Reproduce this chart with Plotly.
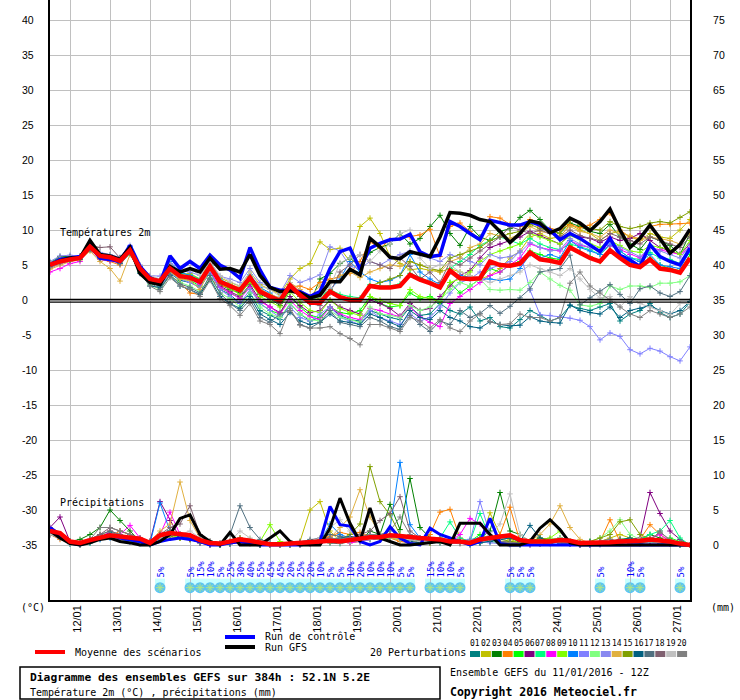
import pandas as pd
import plotly.graph_objects as go

# GEFS run of 11/01/2016 12Z, 6-hourly steps up to +384h
times = pd.date_range("2016-01-11 12:00", periods=65, freq="6h")
day_labels = ["12/01", "13/01", "14/01", "15/01", "16/01", "17/01", "18/01", "19/01",
              "20/01", "21/01", "22/01", "23/01", "24/01", "25/01", "26/01", "27/01"]
days = pd.date_range("2016-01-12", periods=16, freq="D")

# temperature 2m (°C)
temp_mean = [5.0, 5.5, 5.8, 6.0, 7.6, 6.3, 6.1, 5.6, 7.1, 4.5,
             3.0, 2.7, 4.5, 3.4, 3.2, 2.6, 4.8, 2.6, 2.0, 1.4,
             3.2, 1.2, 0.5, -0.1, 2.1, 0.7, -0.4, -0.4, 1.2, 0.4,
             0.0, 0.0, 2.0, 1.8, 1.8, 2.0, 3.6, 2.9, 2.4, 1.8,
             4.2, 3.1, 3.0, 3.1, 5.5, 5.0, 4.9, 5.2, 6.8, 5.8,
             5.6, 5.3, 7.5, 6.7, 6.0, 5.5, 7.1, 6.0, 5.0, 4.7,
             5.8, 4.5, 4.3, 3.9, 6.0]
temp_control = [5.0, 5.8, 6.0, 6.2, 7.8, 6.0, 5.8, 5.5, 7.8, 4.8,
                3.2, 2.4, 6.3, 4.5, 5.5, 4.5, 6.4, 5.0, 4.3, 3.1,
                7.5, 4.3, 1.8, 1.4, 1.4, 1.2, 0.5, 1.2, 4.5, 6.9,
                7.4, 4.4, 7.4, 8.1, 8.6, 8.7, 9.4, 6.9, 6.2, 6.4,
                11.2, 10.5, 9.5, 8.6, 11.4, 11.0, 10.7, 10.7, 11.2, 10.7,
                10.0, 8.6, 9.5, 8.8, 7.9, 6.9, 8.8, 6.4, 5.7, 4.8,
                7.9, 6.2, 5.5, 5.0, 7.4]
temp_gfs = [5.0, 5.6, 6.0, 6.0, 8.5, 6.5, 6.3, 5.8, 7.5, 3.8,
            2.5, 2.2, 4.8, 4.0, 4.5, 4.0, 6.0, 4.4, 4.5, 4.0,
            6.5, 3.5, 1.8, 1.2, 1.3, 1.0, 0.3, 0.7, 2.6, 2.6,
            4.4, 3.6, 8.8, 7.6, 6.1, 5.9, 6.9, 6.6, 6.2, 9.0,
            12.5, 12.4, 12.1, 11.5, 11.2, 9.8, 8.2, 9.5, 11.3, 11.0,
            9.6, 10.2, 11.7, 11.0, 9.9, 11.2, 13.0, 10.0, 7.5, 8.8,
            10.7, 8.8, 6.7, 7.9, 10.1]

temp_p01 = [5.2, 5.9, 6.2, 6.0, 7.2, 6.0, 5.8, 5.4, 6.8, 4.0,
            2.6, 2.0, 3.8, 2.8, 2.5, 1.8, 3.9, 1.5, 0.8, -0.5,
            1.0, -1.5, -2.2, -2.8, -0.5, -2.0, -3.0, -2.5, -1.0, -2.2,
            -2.8, -3.0, -1.5, -2.0, -2.5, -2.8, -1.0, -2.2, -2.0, -0.5,
            -1.5, -2.0, -1.0, -3.0, -2.5, -3.8, -4.0, -2.8, -1.5, -2.2,
            -3.0, -2.5, -0.8, -1.2, -1.5, -1.0, -0.5, -3.0, -2.0, -1.5,
            -0.5, -1.8, -2.5, -2.0, -0.3]
temp_p02 = [4.8, 5.6, 6.0, 6.3, 7.8, 6.2, 6.0, 5.2, 7.0, 4.6,
            3.4, 2.8, 4.2, 3.6, 3.8, 3.0, 5.5, 3.2, 2.5, 2.0,
            4.0, 2.2, 1.5, 0.8, 3.0, 4.5, 5.2, 8.3, 7.2, 7.4,
            5.5, 10.5, 11.7, 9.5, 6.2, 5.2, 4.3, 4.5, 4.2, 4.0,
            4.5, 4.0, 3.5, 3.0, 3.5, 4.5, 6.0, 7.0, 9.0, 9.5,
            8.8, 9.0, 10.8, 10.0, 9.5, 8.5, 9.5, 9.8, 9.0, 8.5,
            9.5, 9.0, 8.8, 10.0, 11.5]
temp_p03 = [5.3, 6.2, 6.2, 6.1, 7.4, 6.5, 6.4, 6.0, 7.2, 4.2,
            2.8, 2.2, 4.0, 3.2, 3.4, 2.8, 4.5, 2.2, 1.5, 1.0,
            2.5, 0.8, 0.2, -0.8, 1.5, 0.5, -0.5, 3.0, 3.8, 5.2,
            6.0, 4.8, 6.8, 7.5, 8.0, 9.5, 8.0, 8.8, 10.5, 12.1,
            9.5, 7.8, 10.5, 9.0, 8.5, 9.8, 10.2, 11.8, 12.8, 11.5,
            10.0, 9.5, 11.0, 10.5, 9.8, 9.5, 10.8, 9.0, 8.0, 7.2,
            9.0, 8.5, 7.8, 6.5, 9.5]
temp_p04 = [4.5, 5.2, 5.6, 5.8, 7.5, 5.8, 5.5, 5.0, 6.8, 4.4,
            3.0, 2.5, 3.5, 2.5, 1.0, 0.8, 3.0, 2.0, 1.8, 1.5,
            3.0, 1.0, 0.5, 0.2, 1.9, 2.0, 1.5, 2.5, 3.0, 3.3,
            3.8, 5.5, 8.3, 7.4, 8.6, 8.8, 9.0, 9.3, 10.1, 6.2,
            10.5, 11.0, 9.8, 8.7, 11.9, 11.7, 10.8, 10.5, 11.5, 10.5,
            10.2, 10.0, 10.8, 10.3, 10.7, 11.5, 12.4, 10.0, 9.0, 8.8,
            10.5, 10.8, 10.8, 10.9, 11.0]
temp_p05 = [5.0, 5.8, 6.0, 6.0, 7.6, 6.2, 6.0, 5.4, 7.0, 4.0,
            2.5, 2.0, 4.2, 3.0, 2.8, 2.0, 4.0, 1.8, 1.0, 0.3,
            2.0, -0.5, -1.5, -2.0, 0.5, -1.0, -2.2, -2.5, -1.0, -1.8,
            -2.0, -1.5, 0.5, -0.5, -1.0, -0.8, 1.0, 0.2, 0.5, -0.2,
            2.5, 1.0, 2.0, 3.0, 4.5, 4.0, 5.0, 5.5, 7.0, 6.5,
            6.0, 5.8, 7.8, 6.8, 6.2, 5.5, 7.0, 6.2, 5.5, 5.0,
            6.0, 5.0, 4.5, 4.2, 6.5]
temp_p06 = [5.1, 5.7, 5.9, 6.2, 7.7, 6.3, 6.0, 5.6, 7.2, 4.8,
            3.2, 2.6, 4.6, 3.5, 3.0, 2.4, 4.6, 2.0, 1.2, 0.5,
            2.2, 0.0, -1.0, -1.8, 0.5, -0.8, -1.8, -1.5, 0.0, -1.0,
            -1.5, -2.0, 0.0, -0.5, -1.2, -2.3, -0.5, -1.5, -1.2, 0.5,
            2.0, 3.5, 4.2, 6.0, 7.5, 8.0, 8.5, 9.0, 9.8, 9.2,
            8.5, 8.0, 9.5, 9.0, 8.8, 8.2, 9.0, 8.5, 8.8, 9.5,
            8.5, 7.5, 7.0, 6.5, 8.0]
temp_p07 = [5.4, 6.0, 6.1, 5.9, 7.4, 6.6, 6.3, 5.9, 7.4, 4.5,
            3.0, 2.8, 4.8, 3.8, 3.6, 3.0, 5.0, 2.8, 2.2, 1.5,
            3.5, 1.5, 0.8, 0.2, 2.2, 1.0, 0.0, 0.5, 1.5, 0.8,
            0.5, 0.3, 2.2, 2.0, 2.0, 2.3, 3.8, 3.2, 2.6, 2.0,
            4.5, 5.5, 6.5, 7.8, 8.5, 9.0, 8.5, 8.0, 8.8, 8.0,
            7.5, 7.2, 8.0, 7.6, 7.2, 6.5, 7.8, 7.0, 6.0, 5.8,
            6.8, 6.0, 5.8, 5.2, 7.0]
temp_p08 = [4.0, 4.5, 5.2, 5.5, 7.3, 5.8, 5.6, 5.3, 6.9, 4.5,
            2.8, 2.4, 4.4, 3.3, 3.0, 2.2, 4.2, 1.8, 1.0, 0.2,
            1.8, -0.2, -1.0, -2.0, 0.0, -1.5, -2.4, -2.8, -1.0, -2.0,
            -2.5, -2.8, -1.2, -1.5, -2.0, -2.4, -1.0, -2.4, -3.2, -3.8,
            -0.5, 0.5, 1.5, 2.5, 3.5, 4.0, 5.0, 6.0, 8.0, 7.5,
            7.2, 7.0, 8.5, 7.8, 7.5, 7.0, 7.8, 7.2, 6.5, 6.0,
            7.5, 7.2, 6.8, 6.5, 7.5]
temp_p09 = [5.0, 5.6, 5.9, 6.1, 7.6, 6.4, 6.2, 5.7, 7.0, 4.3,
            2.7, 2.3, 4.4, 3.4, 3.2, 2.7, 4.6, 2.4, 1.6, 0.8,
            2.6, 0.5, -0.2, -1.0, 1.2, -0.3, -1.5, -1.8, 0.0, -1.2,
            -1.8, -2.2, 0.5, 0.0, -0.5, -0.8, 1.5, 0.5, 0.2, -0.3,
            2.5, 3.0, 4.0, 5.5, 6.5, 7.0, 7.5, 8.0, 9.5, 9.0,
            8.5, 8.0, 9.2, 8.6, 8.0, 7.5, 8.5, 7.8, 7.0, 6.8,
            7.8, 7.5, 7.2, 6.5, 8.5]
temp_p10 = [5.0, 5.5, 5.8, 6.0, 7.8, 6.0, 6.0, 5.5, 7.6, 4.8,
            3.2, 3.0, 5.5, 4.0, 3.5, 2.8, 5.0, 3.0, 2.2, 1.6,
            3.6, 1.8, 1.0, 0.0, 2.0, 0.8, -0.5, -0.2, 1.5, 3.0,
            5.5, 4.0, 3.0, 2.5, 2.8, 3.5, 6.5, 4.0, 3.0, 2.2,
            4.0, 3.5, 3.2, 3.0, 3.0, 2.8, 3.0, 4.5, 6.5, 6.0,
            6.5, 6.0, 8.5, 7.5, 7.0, 6.5, 8.0, 7.0, 6.0, 5.5,
            6.5, 5.0, 4.8, 4.5, 7.0]
temp_p11 = [4.6, 5.2, 5.5, 5.8, 7.2, 6.0, 5.8, 5.2, 6.6, 4.2,
            2.5, 2.0, 3.8, 3.0, 2.5, 1.8, 4.0, 1.5, 0.5, -0.5,
            1.5, -0.5, -1.5, -2.5, -1.0, -2.5, -3.0, -2.0, -1.0, -2.5,
            -3.0, -3.5, -1.5, -2.5, -3.0, -3.5, -2.0, -3.0, -2.5, -1.0,
            1.0, 2.5, 3.0, 4.0, 4.5, 5.0, 5.5, 7.0, 1.4, -2.1,
            -2.2, -2.4, -2.6, -2.9, -3.8, -5.7, -4.7, -5.2, -7.1, -7.7,
            -6.9, -7.3, -8.1, -8.7, -6.7]
temp_p12 = [4.9, 5.5, 5.7, 5.9, 7.3, 6.1, 5.9, 5.4, 6.5, 4.0,
            2.2, 1.5, 3.5, 2.5, 2.0, 1.2, 3.2, 1.0, 0.2, -1.0,
            1.0, -1.0, -2.0, -2.5, -0.5, -2.0, -2.8, -3.0, -1.5, -2.5,
            -2.8, -3.2, -1.0, -2.0, -2.2, -2.5, -0.8, -1.5, -1.0, 0.0,
            1.5, 2.5, 2.0, 3.0, 1.5, 1.4, 1.5, 1.4, 2.5, 4.0,
            3.0, 2.1, 1.4, -0.7, -0.9, -0.5, 2.0, 1.5, 2.0, 2.0,
            1.8, 2.4, 2.4, 2.6, 3.5]
temp_p13 = [5.5, 6.3, 6.4, 6.2, 8.0, 6.8, 6.5, 6.1, 7.8, 5.0,
            3.5, 3.4, 5.2, 4.2, 4.0, 3.5, 5.5, 3.4, 3.0, 2.5,
            4.5, 2.5, 1.8, 1.0, 3.5, 2.5, 3.0, 3.6, 7.6, 7.0,
            4.8, 4.5, 5.5, 5.0, 5.8, 6.5, 7.0, 6.5, 6.0, 5.5,
            6.5, 6.0, 5.5, 5.0, 6.5, 6.0, 6.2, 6.8, 8.2, 7.5,
            7.0, 7.2, 8.8, 8.0, 7.5, 7.0, 8.2, 7.5, 6.8, 6.2,
            7.5, 7.0, 6.5, 6.0, 7.8]
temp_p14 = [4.4, 5.0, 5.5, 5.7, 7.0, 5.5, 4.5, 2.7, 6.5, 4.2,
            2.6, 2.4, 4.0, 3.0, 2.8, 1.5, 4.4, 2.8, 2.2, 1.8,
            3.4, 1.6, 0.8, 0.3, 2.5, 1.5, 0.5, 2.0, 2.8, 3.5,
            4.0, 3.2, 4.0, 4.5, 5.0, 4.8, 5.5, 5.0, 4.5, 4.0,
            5.5, 6.0, 7.5, 8.0, 9.5, 9.2, 8.8, 9.5, 10.5, 9.8,
            9.5, 9.2, 10.5, 9.8, 9.5, 9.0, 10.0, 9.5, 9.2, 8.5,
            9.0, 8.8, 8.5, 8.0, 9.5]
temp_p15 = [5.2, 5.7, 6.0, 6.0, 7.5, 6.3, 6.2, 5.8, 7.2, 4.6,
            3.0, 2.8, 4.8, 3.6, 3.3, 2.8, 5.0, 2.8, 2.0, 1.4,
            3.3, 1.2, 0.5, 0.0, 2.2, 1.0, 0.0, 0.2, 1.5, 0.5,
            0.2, 0.0, 2.0, 2.5, 3.0, 3.5, 5.5, 5.0, 4.5, 4.2,
            6.0, 6.5, 7.0, 7.5, 8.5, 9.0, 9.5, 9.8, 10.8, 10.2,
            9.8, 9.5, 11.5, 10.8, 10.2, 10.0, 11.2, 10.5, 10.2, 10.5,
            11.0, 11.2, 11.0, 11.8, 12.6]
temp_p16 = [4.8, 5.4, 5.7, 5.8, 7.2, 6.0, 5.9, 5.2, 6.7, 3.8,
            2.0, 1.8, 3.5, 2.0, 1.5, 0.8, 3.0, 0.5, -0.5, -1.2,
            0.5, -2.0, -2.8, -3.5, -1.8, -3.0, -3.5, -3.2, -2.0, -3.0,
            -3.2, -3.5, -2.0, -2.5, -3.2, -3.8, -1.5, -2.5, -2.8, -1.5,
            -2.5, -3.0, -3.8, -4.0, -3.1, -3.5, -3.7, -3.6, -2.4, -3.0,
            -3.2, -3.3, -0.7, -1.5, -1.8, -2.0, -1.0, -2.5, -1.5, -1.2,
            -0.8, -1.5, -2.0, -1.5, -0.2]
temp_p17 = [5.0, 5.6, 5.8, 6.0, 7.4, 6.1, 5.9, 5.5, 6.9, 4.2,
            2.5, 1.5, 3.6, 2.3, 1.8, 1.0, 3.5, 1.0, -0.5, -1.5,
            0.0, -2.5, -3.2, -2.0, -1.5, -3.5, -4.0, -3.2, -1.5, -3.2,
            -3.5, -3.8, -2.5, -3.0, -3.8, -4.2, -2.2, -3.5, -4.5, -3.0,
            -3.5, -1.5, -2.5, -1.9, -0.8, -1.9, -0.9, 0.3, 1.6, 4.0,
            4.3, 4.5, 6.4, -0.7, 0.3, 1.3, 2.2, 0.8, -0.5, 1.6,
            2.0, 1.0, 0.5, 1.2, 3.5]
temp_p18 = [5.3, 6.0, 6.1, 6.2, 7.8, 7.5, 7.6, 6.0, 7.4, 4.6,
            3.2, 2.9, 5.0, 3.5, 3.2, 2.5, 5.2, 2.6, 1.8, 1.2,
            3.0, 1.0, 0.2, -0.5, 1.8, 0.5, -0.5, -0.8, 1.0, 4.0,
            5.0, 6.5, 5.5, 5.0, 4.5, 6.0, 4.8, 3.0, 4.0, 2.5,
            5.5, 5.0, 6.0, 7.0, 8.0, 9.0, 10.5, 10.0, 9.5, 10.0,
            9.5, 9.0, 10.0, 9.2, 8.8, 8.5, 9.5, 9.0, 8.5, 8.0,
            9.0, 8.5, 8.0, 7.5, 9.0]
temp_p19 = [5.1, 5.8, 6.0, 6.2, 7.8, 6.6, 6.4, 5.8, 7.3, 5.0,
            3.5, 3.0, 5.0, 4.0, 4.5, 3.5, 5.5, 3.5, 2.6, 2.0,
            4.0, 2.0, 1.5, 0.5, 2.5, 1.2, 0.2, 0.5, 1.8, 5.3,
            6.0, 6.5, 5.5, 7.0, 8.0, 9.5, 10.0, 6.0, 4.5, 5.0,
            5.0, 4.0, 3.5, 3.0, 2.5, 3.0, 3.5, 4.0, 5.0, 4.5,
            4.0, 3.5, 4.5, 3.0, 1.5, 0.3, 0.5, -1.0, 0.5, -0.5,
            -1.0, -1.5, -2.1, -0.5, -0.5]
temp_p20 = [4.7, 5.3, 5.6, 5.9, 7.3, 5.9, 5.7, 5.3, 6.8, 4.0,
            2.0, 1.2, 3.2, 2.0, 1.5, 0.5, 2.8, 0.2, -0.8, -2.2,
            -0.5, -3.0, -3.5, -4.8, -1.2, -3.6, -4.0, -4.0, -3.8, -4.8,
            -5.5, -6.4, -3.5, -3.5, -4.0, -4.5, -2.5, -3.0, -4.0, -2.8,
            -4.0, -4.5, -3.0, -2.0, -3.1, -3.5, -3.4, -2.0, -2.5, -2.5,
            -3.0, -2.5, 2.4, 4.0, 2.0, 1.0, 0.0, -1.0, -2.0, -2.5,
            -1.5, -2.0, -2.5, -2.0, -1.0]

# precipitation (mm / 6h)
precip_mean = [2.0, 1.7, 0.5, 0.3, 0.7, 1.1, 1.4, 1.2, 1.1, 0.9,
               0.3, 1.4, 1.7, 1.5, 1.4, 0.7, 0.3, 0.2, 0.5, 0.8,
               0.6, 0.3, 0.1, 0.1, 0.2, 0.3, 0.5, 0.6, 0.6, 0.5,
               0.7, 0.8, 1.1, 1.1, 1.4, 1.3, 1.1, 1.0, 0.9, 0.8,
               0.5, 0.5, 0.3, 0.8, 1.0, 1.2, 1.4, 0.7, 0.5, 0.5,
               0.5, 0.7, 0.6, 0.3, 0.3, 0.3, 0.4, 0.5, 0.5, 0.6,
               0.8, 0.7, 0.5, 0.2, 0.0]
precip_control = [2.5, 1.5, 0.3, 0.0, 0.5, 1.0, 1.5, 1.0, 0.8, 0.5,
                  0.0, 0.5, 0.8, 1.0, 0.8, 0.5, 0.0, 0.0, 0.3, 0.5,
                  0.2, 0.0, 0.0, 0.0, 0.0, 0.0, 0.2, 0.5, 5.5, 2.9,
                  2.7, 0.5, 0.0, 0.5, 2.6, 1.0, 0.2, 0.0, 2.4, 1.5,
                  1.0, 0.5, 0.0, 0.5, 3.8, 0.2, 0.0, 0.0, 0.0, 0.0,
                  0.0, 0.0, 0.0, 0.0, 0.0, 0.0, 0.0, 0.0, 0.0, 0.0,
                  0.0, 0.0, 0.0, 0.0, 0.0]
precip_gfs = [2.0, 1.0, 0.2, 0.0, 0.3, 0.8, 1.0, 0.5, 0.3, 0.0,
              0.0, 0.5, 1.5, 3.8, 4.3, 1.5, 0.5, 0.0, 1.8, 0.0,
              0.0, 0.0, 1.0, 2.0, 0.5, 0.0, 0.0, 0.0, 2.4, 6.7,
              3.1, 0.5, 5.3, 1.0, 0.5, 0.0, 0.0, 0.2, 0.3, 0.5,
              0.0, 3.1, 3.1, 3.1, 1.5, 0.0, 0.0, 0.0, 0.5, 2.4,
              3.6, 2.2, 0.3, 0.0, 0.0, 0.0, 0.0, 0.0, 0.0, 0.0,
              0.0, 0.0, 0.0, 0.0, 0.0]

precip_p01 = [1.8, 1.0, 0.2, 0.0, 0.5, 1.2, 1.8, 1.5, 0.5, 0.2,
              0.0, 1.0, 2.0, 1.2, 0.8, 0.3, 0.0, 0.0, 0.2, 0.5,
              0.3, 0.0, 0.0, 0.0, 0.0, 0.2, 0.3, 0.5, 0.3, 0.2,
              0.5, 0.8, 1.0, 0.8, 1.2, 1.0, 0.5, 0.3, 0.5, 0.3,
              0.2, 0.5, 0.0, 0.3, 0.5, 0.8, 1.0, 0.5, 0.3, 0.2,
              0.2, 0.5, 0.3, 0.0, 0.2, 0.2, 0.3, 0.5, 0.8, 0.3,
              0.5, 0.3, 0.2, 0.0, 0.0]
precip_p02 = [2.2, 1.5, 0.5, 0.2, 0.8, 1.0, 1.5, 1.0, 0.8, 0.5,
              0.2, 1.2, 1.5, 1.0, 0.8, 0.5, 0.2, 0.0, 0.3, 0.8,
              0.5, 0.2, 0.0, 0.0, 0.2, 0.5, 5.0, 6.2, 2.0, 0.5,
              0.3, 0.5, 1.0, 1.5, 1.0, 0.8, 0.5, 0.3, 0.5, 1.0,
              0.5, 0.3, 0.2, 0.5, 4.6, 1.5, 0.8, 0.3, 0.2, 0.5,
              0.8, 1.0, 0.5, 0.3, 0.2, 0.5, 1.0, 1.5, 1.0, 0.8,
              1.0, 0.5, 0.2, 0.0, 0.0]
precip_p03 = [2.0, 1.2, 0.5, 0.8, 1.5, 2.5, 5.0, 3.5, 2.0, 0.5,
              0.2, 1.0, 1.5, 1.2, 1.0, 0.5, 0.2, 0.0, 0.2, 0.5,
              0.5, 0.2, 0.0, 0.0, 0.0, 0.2, 0.5, 0.5, 0.8, 0.5,
              0.5, 0.5, 2.0, 1.5, 5.8, 2.2, 9.5, 2.5, 1.0, 0.5,
              0.5, 0.3, 0.5, 1.0, 2.0, 7.5, 2.0, 1.5, 0.5, 0.2,
              0.5, 1.0, 0.5, 0.2, 0.0, 0.2, 0.3, 0.5, 0.5, 0.8,
              1.5, 1.0, 0.5, 0.0, 0.0]
precip_p04 = [1.5, 0.8, 0.3, 0.0, 0.5, 1.0, 1.2, 2.0, 1.5, 0.5,
              0.2, 1.0, 1.2, 1.5, 1.2, 0.5, 0.2, 0.0, 0.5, 1.0,
              0.8, 0.3, 0.0, 0.0, 0.2, 0.3, 0.5, 0.8, 1.2, 1.8,
              1.5, 1.8, 1.2, 0.8, 1.0, 0.5, 0.3, 0.5, 1.5, 4.7,
              5.1, 1.0, 0.5, 0.5, 1.0, 1.5, 5.4, 0.5, 0.3, 0.2,
              0.3, 0.5, 0.3, 0.2, 0.0, 0.5, 3.6, 0.5, 0.3, 0.8,
              2.9, 1.5, 0.5, 0.2, 0.0]
precip_p05 = [1.8, 1.2, 0.2, 0.0, 0.3, 0.8, 1.5, 1.2, 1.0, 0.5,
              0.2, 1.5, 1.8, 1.5, 1.2, 0.5, 0.2, 0.0, 0.3, 0.5,
              0.3, 0.0, 0.0, 0.0, 0.0, 0.2, 0.3, 0.5, 0.5, 0.3,
              0.5, 0.5, 0.8, 1.0, 1.2, 1.0, 0.8, 0.5, 0.5, 0.8,
              0.5, 0.3, 0.5, 1.5, 1.0, 0.5, 0.3, 0.2, 0.5, 1.0,
              0.5, 0.3, 0.2, 0.3, 0.5, 0.5, 0.3, 0.2, 0.5, 0.8,
              0.5, 0.3, 1.0, 0.5, 0.0]
precip_p06 = [2.5, 4.0, 0.5, 0.2, 0.5, 1.0, 1.2, 0.8, 0.5, 0.3,
              0.5, 6.2, 3.5, 1.0, 0.8, 0.3, 0.0, 0.0, 0.2, 0.3,
              0.2, 0.0, 0.0, 0.0, 0.0, 0.0, 0.2, 0.3, 0.5, 0.3,
              0.5, 0.8, 1.0, 1.0, 1.5, 1.0, 0.8, 0.5, 0.3, 0.5,
              0.3, 0.2, 0.3, 0.5, 0.8, 0.5, 0.3, 0.2, 0.0, 0.2,
              0.3, 0.5, 0.3, 0.0, 0.0, 0.2, 0.3, 0.5, 0.8, 1.0,
              7.5, 4.5, 2.0, 0.8, 0.0]
precip_p07 = [2.0, 1.5, 0.5, 0.2, 0.5, 1.0, 1.2, 1.0, 0.8, 0.5,
              0.2, 1.0, 1.5, 1.2, 1.0, 0.5, 0.2, 0.0, 0.3, 0.5,
              0.3, 0.0, 0.0, 0.0, 0.2, 0.3, 0.5, 0.8, 0.8, 0.5,
              0.5, 0.8, 1.0, 1.2, 1.0, 0.8, 0.5, 0.3, 0.5, 1.0,
              3.3, 1.0, 0.5, 4.5, 1.0, 0.5, 0.3, 0.2, 0.3, 0.5,
              0.8, 1.0, 0.5, 0.3, 0.2, 0.3, 0.5, 0.3, 0.5, 0.8,
              1.5, 2.0, 3.5, 1.0, 0.0]
precip_p08 = [1.5, 1.0, 0.3, 0.0, 0.5, 1.0, 2.0, 1.5, 2.8, 1.0,
              0.5, 1.5, 4.7, 1.5, 1.0, 0.5, 0.2, 0.0, 0.2, 0.5,
              0.3, 0.0, 0.0, 0.0, 0.0, 0.0, 0.2, 0.3, 0.5, 0.5,
              0.3, 0.5, 0.8, 1.0, 1.2, 0.8, 0.5, 0.3, 0.5, 0.5,
              0.5, 1.5, 3.8, 3.0, 1.0, 0.5, 0.3, 0.2, 0.3, 0.5,
              0.5, 0.3, 0.2, 0.0, 0.0, 0.2, 0.3, 0.5, 0.3, 0.5,
              1.0, 1.5, 0.5, 0.2, 0.0]
precip_p09 = [1.8, 1.2, 0.3, 0.0, 0.5, 1.0, 1.5, 1.2, 1.0, 0.5,
              0.2, 1.2, 1.5, 1.0, 1.2, 0.5, 0.3, 0.0, 0.5, 1.0,
              0.8, 0.5, 2.9, 0.5, 0.2, 0.0, 0.3, 0.5, 0.5, 0.3,
              0.5, 0.8, 1.0, 1.0, 1.2, 1.0, 0.8, 0.5, 0.3, 0.5,
              0.5, 0.3, 0.5, 0.8, 1.0, 0.5, 0.5, 0.3, 0.5, 0.8,
              1.0, 2.0, 0.5, 0.3, 0.2, 0.5, 0.5, 0.8, 1.0, 0.5,
              0.8, 0.5, 0.3, 0.2, 0.0]
precip_p10 = [2.2, 1.5, 0.2, 0.0, 0.3, 0.8, 1.0, 0.8, 0.5, 0.3,
              0.2, 6.0, 2.0, 1.2, 1.0, 0.5, 0.2, 0.0, 0.2, 0.5,
              0.3, 0.0, 0.0, 0.0, 0.0, 0.2, 0.3, 0.5, 3.0, 1.5,
              1.0, 1.0, 1.5, 1.2, 2.3, 11.8, 2.9, 1.0, 0.5, 0.5,
              0.3, 0.5, 0.8, 1.0, 0.5, 0.3, 0.2, 0.0, 0.2, 0.3,
              0.5, 0.3, 0.2, 0.0, 0.0, 0.2, 0.3, 0.5, 0.3, 0.2,
              0.5, 0.3, 0.2, 0.0, 0.0]
precip_p11 = [1.5, 1.0, 0.2, 0.0, 0.5, 0.8, 1.2, 1.0, 0.8, 0.5,
              0.3, 1.5, 1.8, 1.5, 1.2, 0.5, 0.2, 0.0, 0.2, 0.5,
              0.3, 0.0, 0.0, 0.0, 0.2, 0.3, 0.5, 0.8, 0.8, 0.5,
              0.5, 0.8, 1.0, 1.2, 1.5, 1.0, 0.8, 0.5, 0.5, 0.8,
              0.5, 0.3, 0.5, 6.2, 1.5, 0.5, 0.3, 0.2, 0.2, 0.3,
              0.5, 0.3, 0.2, 0.0, 0.0, 0.2, 0.3, 0.5, 0.3, 0.2,
              0.5, 0.3, 0.2, 0.0, 0.0]
precip_p12 = [2.0, 1.2, 0.5, 0.2, 0.5, 1.2, 1.5, 1.2, 1.0, 0.5,
              0.2, 1.0, 1.5, 1.2, 1.0, 0.5, 0.3, 0.0, 0.3, 0.5,
              0.3, 0.0, 0.0, 0.0, 0.0, 0.2, 0.3, 0.5, 0.5, 0.3,
              0.5, 0.8, 1.0, 0.8, 1.0, 0.8, 0.5, 0.3, 0.5, 0.5,
              0.5, 0.3, 0.5, 0.8, 0.5, 0.3, 0.2, 0.0, 0.3, 0.5,
              0.8, 1.0, 0.5, 0.3, 0.5, 1.0, 2.0, 3.6, 1.5, 0.8,
              1.0, 0.5, 0.3, 0.0, 0.0]
precip_p13 = [1.5, 1.0, 0.3, 0.0, 0.5, 1.0, 1.5, 1.2, 0.8, 0.5,
              0.2, 1.2, 1.5, 1.2, 1.0, 0.5, 0.3, 0.0, 0.2, 0.5,
              0.3, 0.0, 0.0, 0.0, 0.0, 0.0, 0.2, 0.5, 0.5, 0.3,
              0.5, 0.5, 0.8, 1.0, 1.2, 1.0, 0.5, 0.3, 0.5, 0.5,
              0.3, 0.5, 0.8, 0.5, 0.3, 0.2, 0.0, 0.0, 0.2, 0.3,
              0.5, 0.3, 0.2, 0.0, 0.0, 0.0, 0.2, 0.3, 0.5, 0.3,
              0.5, 0.3, 0.2, 0.0, 0.0]
precip_p14 = [1.8, 1.2, 0.5, 0.2, 0.8, 1.5, 2.0, 1.5, 1.2, 0.8,
              0.5, 2.0, 3.0, 9.0, 3.5, 1.0, 0.5, 0.2, 0.5, 1.0,
              0.5, 0.2, 0.0, 0.0, 0.0, 0.2, 0.5, 0.8, 1.0, 2.5,
              4.0, 7.9, 4.0, 1.5, 1.0, 0.8, 0.5, 0.3, 0.5, 0.8,
              0.5, 0.3, 0.5, 0.8, 1.0, 0.5, 0.3, 0.2, 0.5, 1.5,
              3.0, 5.6, 2.5, 0.8, 0.3, 0.2, 0.3, 0.5, 0.5, 0.3,
              0.5, 0.3, 0.2, 0.0, 0.0]
precip_p15 = [1.5, 1.0, 0.3, 0.0, 0.5, 1.0, 1.2, 1.0, 0.8, 0.5,
              0.2, 1.0, 1.2, 1.0, 0.8, 0.5, 0.2, 0.0, 0.2, 0.5,
              0.3, 0.0, 0.0, 0.0, 0.0, 0.2, 0.3, 0.5, 0.5, 0.8,
              1.5, 3.0, 11.2, 6.2, 4.3, 1.5, 0.8, 0.5, 0.3, 0.5,
              0.5, 0.3, 0.5, 0.8, 1.0, 0.8, 0.5, 0.3, 0.5, 1.0,
              0.8, 0.5, 0.3, 0.2, 0.5, 1.0, 1.5, 3.3, 3.6, 1.5,
              0.8, 0.5, 0.3, 0.0, 0.0]
precip_p16 = [2.0, 1.5, 0.5, 0.2, 0.5, 1.0, 1.5, 1.0, 0.8, 0.5,
              0.2, 1.0, 1.5, 1.2, 1.0, 0.5, 0.2, 0.0, 0.2, 0.5,
              0.3, 0.0, 0.0, 0.0, 0.0, 0.2, 0.3, 0.5, 0.8, 1.0,
              1.2, 1.0, 0.8, 1.0, 1.2, 1.0, 0.5, 0.3, 0.5, 0.8,
              0.5, 0.5, 0.5, 0.3, 0.5, 0.8, 1.0, 0.5, 2.8, 1.0,
              0.5, 0.3, 0.2, 0.3, 0.5, 0.3, 0.5, 0.8, 1.0, 0.5,
              0.5, 0.3, 0.2, 0.0, 0.0]
precip_p17 = [2.0, 1.5, 0.5, 0.2, 0.8, 1.5, 2.0, 1.5, 1.0, 0.8,
              0.5, 1.5, 2.0, 1.5, 1.2, 0.8, 0.5, 0.3, 1.5, 5.6,
              2.5, 0.8, 0.3, 0.0, 0.2, 0.5, 0.8, 1.0, 1.5, 1.2,
              1.0, 0.8, 1.0, 1.2, 1.5, 1.0, 0.8, 0.5, 0.5, 0.8,
              0.5, 0.3, 0.5, 0.5, 0.8, 0.5, 0.3, 0.2, 0.3, 0.5,
              0.3, 0.5, 0.3, 0.2, 0.3, 0.5, 0.8, 0.5, 0.3, 0.5,
              0.8, 0.5, 0.3, 0.0, 0.0]
precip_p18 = [1.8, 1.2, 0.5, 0.2, 0.8, 1.5, 2.5, 2.0, 1.5, 1.0,
              0.5, 1.5, 2.5, 3.0, 5.6, 1.5, 0.5, 0.2, 0.5, 0.8,
              0.5, 0.2, 0.0, 0.0, 0.0, 0.2, 0.5, 0.8, 1.0, 0.8,
              1.0, 1.5, 2.0, 3.5, 4.5, 6.9, 2.0, 1.0, 0.5, 0.8,
              0.5, 0.3, 0.5, 0.8, 1.0, 0.5, 0.3, 0.2, 0.3, 0.5,
              0.5, 0.3, 0.2, 0.0, 0.2, 0.3, 0.5, 0.8, 0.5, 0.3,
              0.5, 2.0, 0.5, 0.2, 0.0]
precip_p19 = [1.5, 1.0, 0.3, 0.0, 0.5, 1.0, 1.2, 1.0, 0.8, 0.5,
              0.2, 1.0, 1.5, 1.5, 2.0, 1.0, 0.5, 0.2, 0.5, 2.0,
              1.0, 0.3, 0.0, 0.0, 0.0, 0.2, 0.5, 1.0, 2.5, 3.6,
              2.0, 1.0, 0.8, 1.0, 1.2, 1.0, 0.8, 0.5, 0.5, 0.8,
              0.5, 0.3, 0.5, 0.8, 1.5, 3.0, 7.3, 1.5, 0.5, 0.3,
              0.5, 1.0, 0.5, 0.3, 0.2, 0.3, 0.5, 0.3, 0.5, 0.8,
              0.5, 0.3, 0.2, 0.0, 0.0]
precip_p20 = [2.2, 1.5, 0.5, 0.3, 0.8, 2.5, 2.5, 2.0, 1.5, 1.0,
              0.5, 1.5, 2.0, 1.5, 1.2, 0.8, 0.5, 0.2, 0.5, 1.0,
              0.5, 0.2, 0.0, 0.0, 0.0, 0.2, 0.5, 0.8, 1.0, 0.8,
              1.0, 1.2, 1.5, 1.5, 2.0, 4.0, 1.5, 1.0, 0.5, 0.8,
              0.5, 0.3, 0.5, 0.8, 1.0, 0.5, 0.3, 0.2, 0.3, 0.5,
              0.3, 0.5, 0.3, 0.2, 0.3, 0.5, 0.8, 0.5, 0.3, 0.5,
              0.8, 1.8, 0.8, 0.2, 0.0]

member_names = ["01", "02", "03", "04", "05", "06", "07", "08", "09", "10",
                "11", "12", "13", "14", "15", "16", "17", "18", "19", "20"]
member_colors = ["#008080", "#c0c000", "#008000", "#ff8000", "#00ff00",
                 "#800080", "#00ff80", "#ff00ff", "#80ff00", "#0080ff",
                 "#8080ff", "#80ff80", "#8888f0", "#e0b040", "#80a000",
                 "#006080", "#507080", "#806070", "#c0c0c0", "#808080"]

# snow probability (%)
snow_times = ["2016-01-14 06:00",
              "2016-01-15 00:00", "2016-01-15 06:00", "2016-01-15 12:00", "2016-01-15 18:00",
              "2016-01-16 00:00", "2016-01-16 06:00", "2016-01-16 12:00", "2016-01-16 18:00",
              "2016-01-17 00:00", "2016-01-17 06:00", "2016-01-17 12:00", "2016-01-17 18:00",
              "2016-01-18 00:00", "2016-01-18 06:00", "2016-01-18 12:00", "2016-01-18 18:00",
              "2016-01-19 00:00", "2016-01-19 06:00", "2016-01-19 12:00", "2016-01-19 18:00",
              "2016-01-20 00:00", "2016-01-20 06:00", "2016-01-20 12:00",
              "2016-01-21 00:00", "2016-01-21 06:00", "2016-01-21 12:00", "2016-01-21 18:00",
              "2016-01-23 00:00", "2016-01-23 06:00", "2016-01-23 12:00",
              "2016-01-25 06:00", "2016-01-26 00:00", "2016-01-26 06:00", "2016-01-27 06:00"]
snow_pct = [5,
            5, 15, 10, 5, 25, 30, 40, 55, 45, 45, 20, 25, 20, 10, 5, 5, 10, 20, 10, 10, 10, 5, 5,
            15, 10, 10, 5,
            5, 5, 5,
            5, 10, 5, 5]

temp_members = [temp_p01, temp_p02, temp_p03, temp_p04, temp_p05, temp_p06, temp_p07,
                temp_p08, temp_p09, temp_p10, temp_p11, temp_p12, temp_p13, temp_p14,
                temp_p15, temp_p16, temp_p17, temp_p18, temp_p19, temp_p20]
precip_members = [precip_p01, precip_p02, precip_p03, precip_p04, precip_p05, precip_p06,
                  precip_p07, precip_p08, precip_p09, precip_p10, precip_p11, precip_p12,
                  precip_p13, precip_p14, precip_p15, precip_p16, precip_p17, precip_p18,
                  precip_p19, precip_p20]

MONO = "DejaVu Sans Mono"
SANS = "Liberation Sans"


def px(x):
    # page pixel -> paper x (plot area spans 50..690)
    return (x - 50) / 640


def py(y):
    # page pixel -> paper y (plot area spans 0..600)
    return (600 - y) / 600


fig = go.Figure()

for name, col, t, p in zip(member_names, member_colors, temp_members, precip_members):
    for vals, ax in ((t, "y"), (p, "y2")):
        fig.add_trace(go.Scatter(
            x=times, y=vals, yaxis=ax, mode="lines+markers", name=name,
            line=dict(color=col, width=1),
            marker=dict(symbol="cross-thin", size=4, line=dict(color=col, width=1)),
            hoverinfo="skip"))

for vals, ax, col, w in ((temp_control, "y", "#0000ff", 3.5), (temp_gfs, "y", "#000000", 3.5),
                         (temp_mean, "y", "#ff0000", 4.5),
                         (precip_control, "y2", "#0000ff", 3), (precip_gfs, "y2", "#000000", 3),
                         (precip_mean, "y2", "#ff0000", 4.5)):
    fig.add_trace(go.Scatter(x=times, y=vals, yaxis=ax, mode="lines",
                             line=dict(color=col, width=w), hoverinfo="skip"))

# snow icons
fig.add_trace(go.Scatter(x=snow_times, y=[-41.1] * len(snow_times), mode="markers",
                         marker=dict(symbol="circle", size=11, color="#5cc4f2"),
                         hoverinfo="skip"))
fig.add_trace(go.Scatter(x=snow_times, y=[-41.1] * len(snow_times), mode="markers",
                         marker=dict(symbol="asterisk-open", size=7,
                                     line=dict(color="white", width=1)),
                         hoverinfo="skip"))

ann = []
shapes = []
for t, v in zip(snow_times, snow_pct):
    ts = pd.Timestamp(t)
    shapes.append(dict(type="rect", xref="x", yref="y", layer="below",
                       x0=ts - pd.Timedelta(hours=3), x1=ts + pd.Timedelta(hours=3),
                       y0=-40.6, y1=-39.8, fillcolor="#c8ffff", line=dict(width=0)))
    ann.append(dict(x=t, y=-40.0, xref="x", yref="y", text=f"{v}%", textangle=-90,
                    showarrow=False, xanchor="center", yanchor="bottom",
                    font=dict(family=MONO, size=9, color="#0000ff")))

for d, lab in zip(days, day_labels):
    ann.append(dict(x=d + pd.Timedelta(hours=4), y=py(603), xref="x", yref="paper",
                    text=lab, textangle=-90, showarrow=False, xanchor="center",
                    yanchor="top", font=dict(family=SANS, size=11, color="black")))

for v in range(-35, 45, 5):
    ann.append(dict(x=px(20), y=v, xref="paper", yref="y", text=str(v), showarrow=False,
                    xanchor="left", yanchor="middle",
                    font=dict(family=SANS, size=10.5, color="black")))


def label(x, y, text, size=10, bold=False):
    if bold:
        text = f"<b>{text}</b>"
    ann.append(dict(x=px(x), y=py(y), xref="paper", yref="paper", text=text,
                    showarrow=False, xanchor="left", yanchor="middle",
                    font=dict(family=MONO, size=size, color="black")))


label(58, 233, "Températures 2m")
label(58, 502, "Précipitations")
label(19, 607, "(°C)")
label(709, 607, "(mm)")
label(73, 652, "Moyenne des scénarios")
label(263, 636, "Run de contrôle")
label(263, 647, "Run GFS")
label(368, 652, "20 Perturbations")
label(28, 677, "Diagramme des ensembles GEFS sur 384h : 52.1N 5.2E", size=11.3, bold=True)
label(28, 692, "Température 2m (°C) , précipitations (mm)")
label(448, 672, "Ensemble GEFS du 11/01/2016 - 12Z")
label(448, 692, "Copyright 2016 Meteociel.fr", size=11.5, bold=True)

shapes += [
    # double zero line
    dict(type="line", xref="paper", yref="y", x0=0, x1=1, y0=0.07, y1=0.07,
         line=dict(color="black", width=1.3)),
    dict(type="line", xref="paper", yref="y", x0=0, x1=1, y0=-0.29, y1=-0.29,
         line=dict(color="black", width=1.3)),
    # legend swatches
    dict(type="line", xref="paper", yref="paper", x0=px(35), x1=px(65), y0=py(652), y1=py(652),
         line=dict(color="#ff0000", width=4)),
    dict(type="line", xref="paper", yref="paper", x0=px(225), x1=px(255), y0=py(637), y1=py(637),
         line=dict(color="#0000ff", width=4)),
    dict(type="line", xref="paper", yref="paper", x0=px(225), x1=px(255), y0=py(647), y1=py(647),
         line=dict(color="#000000", width=4)),
    # title box
    dict(type="rect", xref="paper", yref="paper", x0=px(20), x1=px(440), y0=py(667), y1=py(699),
         line=dict(color="black", width=1.5)),
]
for k, (name, col) in enumerate(zip(member_names, member_colors)):
    x0 = 470 + k * 10.9
    shapes.append(dict(type="rect", xref="paper", yref="paper", x0=px(x0), x1=px(x0 + 10),
                       y0=py(651), y1=py(657), fillcolor=col, line=dict(width=0)))
    ann.append(dict(x=px(x0 + 5), y=py(643), xref="paper", yref="paper", text=name,
                    showarrow=False, xanchor="center", yanchor="middle",
                    font=dict(family=MONO, size=8, color="black")))

fig.update_layout(
    width=740, height=700,
    margin=dict(l=50, r=50, t=0, b=100),
    paper_bgcolor="white", plot_bgcolor="white",
    showlegend=False,
    annotations=ann, shapes=shapes,
    xaxis=dict(type="date", range=[times[0], times[-1]], tickvals=list(days),
               showticklabels=False, ticks="", showgrid=True, gridcolor="#c0c0c0",
               gridwidth=1, showline=True, linecolor="black", linewidth=2, zeroline=False),
    yaxis=dict(range=[-300 / 7, 300 / 7], tickvals=list(range(-35, 45, 5)),
               showticklabels=False, ticks="", showgrid=True, gridcolor="#c0c0c0",
               showline=True, linecolor="black", linewidth=2, zeroline=False),
    yaxis2=dict(range=[35 - 300 / 7, 35 + 300 / 7], tickvals=list(range(0, 80, 5)),
                overlaying="y", side="right", showgrid=False, zeroline=False,
                showline=True, linecolor="black", linewidth=2, ticks="",
                ticklabelstandoff=19, tickfont=dict(family=SANS, size=10.5, color="black")),
)

fig.write_html("out.html", config={"displayModeBar": False},
               post_script="document.body.style.margin='0';")
